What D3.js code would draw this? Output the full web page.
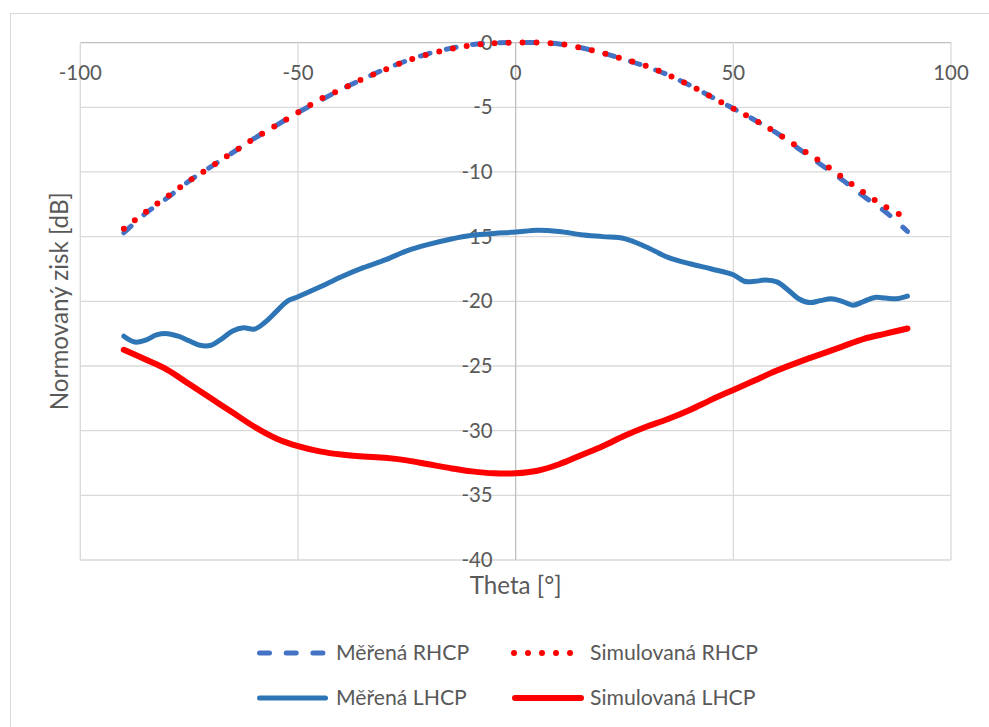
<!DOCTYPE html>
<html><head><meta charset="utf-8">
<script src="https://cdn.jsdelivr.net/npm/d3@7/dist/d3.min.js"></script>
<style>
html,body{margin:0;padding:0;background:#fff;}
svg{display:block;font-family:Lato,"Open Sans",sans-serif;}
</style></head>
<body>
<svg id="c" width="989" height="727"></svg>
<script>
const seriesNames = ["Měřená RHCP","Simulovaná RHCP","Měřená LHCP","Simulovaná LHCP"];
const xTicks = [-100,-50,0,50,100];
const yTicks = [0,-5,-10,-15,-20,-25,-30,-35,-40];

const theta5 = [-90,-85,-80,-75,-70,-65,-60,-55,-50,-45,-40,-35,-30,-25,-20,-15,-10,-5,0,5,10,15,20,25,30,35,40,45,50,55,60,65,70,75,80,85,90];
const measRHCP = [-14.7,-13.2,-12.0,-10.7,-9.6,-8.5,-7.4,-6.4,-5.4,-4.5,-3.6,-2.8,-2.05,-1.4,-0.85,-0.45,-0.15,-0.02,0,0,-0.1,-0.4,-0.8,-1.3,-1.85,-2.5,-3.3,-4.2,-5.1,-6.0,-7.0,-8.2,-9.4,-10.6,-11.9,-13.1,-14.6];
const simRHCP = [-14.4,-13.1,-11.9,-10.7,-9.6,-8.5,-7.4,-6.4,-5.4,-4.4,-3.6,-2.8,-2.1,-1.4,-0.9,-0.5,-0.2,-0.05,0,0,-0.1,-0.4,-0.8,-1.3,-1.8,-2.5,-3.3,-4.2,-5.1,-6.0,-7.0,-8.1,-9.2,-10.4,-11.6,-12.7,-13.6];
const simLHCP = [-23.75,-24.5,-25.3,-26.4,-27.5,-28.6,-29.7,-30.6,-31.2,-31.6,-31.85,-32.0,-32.1,-32.3,-32.6,-32.9,-33.15,-33.3,-33.3,-33.1,-32.6,-31.9,-31.2,-30.4,-29.7,-29.1,-28.4,-27.6,-26.85,-26.1,-25.35,-24.7,-24.1,-23.5,-22.9,-22.5,-22.1];

const thetaMeasLHCP = [-90,-87.5,-85,-82.5,-80,-77.5,-75,-72.5,-70,-67.5,-65,-62.5,-60,-57.5,-55,-52.5,-50,-45,-40,-35,-30,-25,-20,-15,-10,-5,0,5,10,15,20,25,30,35,40,45,50,52.5,55,57.5,60,62.5,65,67.5,70,72.5,75,77.5,80,82.5,85,87.5,90];
const measLHCP = [-22.7,-23.15,-23.0,-22.6,-22.5,-22.7,-23.05,-23.4,-23.4,-22.9,-22.3,-22.05,-22.15,-21.6,-20.8,-20.0,-19.65,-18.9,-18.1,-17.4,-16.8,-16.1,-15.6,-15.2,-14.9,-14.75,-14.65,-14.5,-14.6,-14.85,-15.0,-15.15,-15.8,-16.6,-17.1,-17.5,-17.95,-18.45,-18.45,-18.35,-18.5,-19.1,-19.8,-20.1,-19.95,-19.8,-20.0,-20.3,-20.0,-19.7,-19.75,-19.8,-19.6];

const svg = d3.select("#c");
const grid = "#D9D9D9", axisCol = "#BFBFBF", txt = "#595959";

function fitSize(sample, target){
  const t = svg.append("text").attr("font-size",100).text(sample);
  const w = t.node().getComputedTextLength();
  t.remove();
  return 100*target/w;
}
const tickFS = fitSize("-100", 43);
const titleFS = fitSize("Theta [°]", 92);
const ytitleFS = fitSize("Normovaný zisk [dB]", 218);
const legFS = fitSize("Simulovaná RHCP", 168);

svg.append("rect").attr("x",10.5).attr("y",13.5).attr("width",1000).attr("height",800)
  .attr("fill","#fff").attr("stroke",grid).attr("stroke-width",1);

const x = d3.scaleLinear().domain([-100,100]).range([80.3,951]);
const y = d3.scaleLinear().domain([-40,0]).range([560,42.6]);

const g = svg.append("g");
g.selectAll(".hg").data(yTicks).join("line")
  .attr("x1",x(-100)).attr("x2",x(100)).attr("y1",d=>y(d)).attr("y2",d=>y(d))
  .attr("stroke",d=>d===0?axisCol:grid).attr("stroke-width",1.3);
g.selectAll(".vg").data(xTicks).join("line")
  .attr("y1",y(0)).attr("y2",y(-40)).attr("x1",d=>x(d)).attr("x2",d=>x(d))
  .attr("stroke",d=>d===0?axisCol:grid).attr("stroke-width",1.3);

svg.append("g").selectAll("text").data(xTicks).join("text")
  .attr("x",d=>x(d)).attr("y",y(0)+30.5).attr("dy","0.35em").attr("text-anchor","middle")
  .attr("fill",txt).attr("font-size",tickFS).text(d=>String(d));
svg.append("g").selectAll("text").data(yTicks).join("text")
  .attr("x",x(0)-23).attr("y",d=>y(d)).attr("dy","0.35em").attr("text-anchor","end")
  .attr("fill",txt).attr("font-size",tickFS).text(d=>String(d));

svg.append("text").attr("x",x(0)).attr("y",585.5).attr("dy","0.35em").attr("text-anchor","middle")
  .attr("fill",txt).attr("font-size",titleFS).text("Theta [°]");
svg.append("text").attr("transform",`translate(60,${(y(0)+y(-40))/2}) rotate(-90)`)
  .attr("dy","0.35em").attr("text-anchor","middle").attr("fill",txt).attr("font-size",ytitleFS)
  .text("Normovaný zisk [dB]");

const line = d3.line().x(d=>x(d[0])).y(d=>y(d[1])).curve(d3.curveCatmullRom);

const styles = [
  {color:"#4472C4", w:5, dash:"10,16.7", cap:"round"},
  {color:"#FF0000", w:6, dash:"0,14", cap:"round"},
  {color:"#2E75B6", w:5, dash:null, cap:"round"},
  {color:"#FF0000", w:6, dash:null, cap:"round"}
];
const data = [
  theta5.map((t,i)=>[t,measRHCP[i]]),
  theta5.map((t,i)=>[t,simRHCP[i]]),
  thetaMeasLHCP.map((t,i)=>[t,measLHCP[i]]),
  theta5.map((t,i)=>[t,simLHCP[i]])
];
data.forEach((d,i)=>{
  const s = styles[i];
  svg.append("path").datum(d).attr("d",line).attr("fill","none")
    .attr("stroke",s.color).attr("stroke-width",s.w).attr("stroke-linecap",s.cap)
    .attr("stroke-linejoin","round").attr("stroke-dasharray",s.dash);
});

const legPos = [
  {x1:259.5,x2:326,tx:336,y:653},
  {x1:514,x2:571,tx:590,y:653},
  {x1:259.5,x2:325.5,tx:336,y:698},
  {x1:515,x2:581,tx:590,y:698}
];
legPos.forEach((p,i)=>{
  const s = styles[i];
  svg.append("line").attr("x1",p.x1).attr("x2",p.x2).attr("y1",p.y).attr("y2",p.y)
    .attr("stroke",s.color).attr("stroke-width",s.w).attr("stroke-linecap",s.cap)
    .attr("stroke-dasharray",s.dash);
  svg.append("text").attr("x",p.tx).attr("y",p.y).attr("dy","0.35em")
    .attr("fill",txt).attr("font-size",legFS).text(seriesNames[i]);
});
</script>
</body></html>
